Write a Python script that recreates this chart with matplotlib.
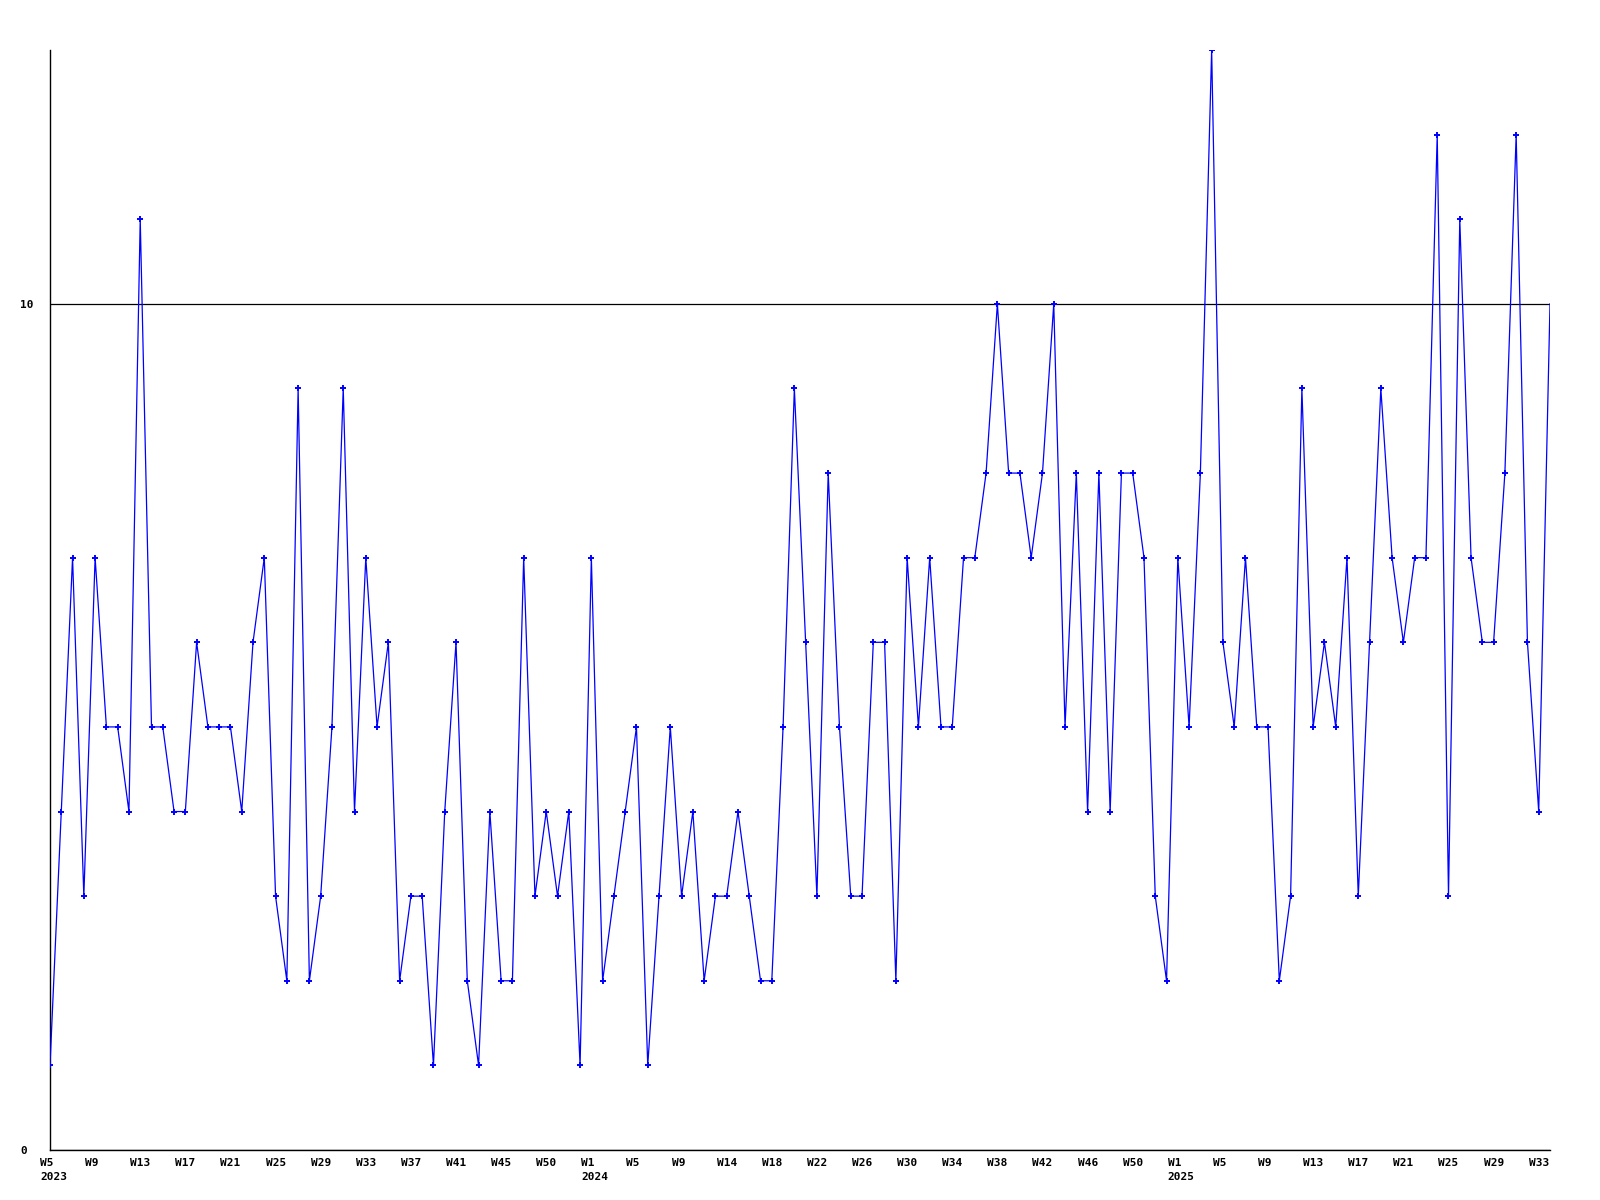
import matplotlib

matplotlib.use("Agg")
import matplotlib.pyplot as plt
from matplotlib.transforms import ScaledTranslation

# weekly counts, one value per week starting at 2023 W5
values = [
    1, 4, 7, 3, 7, 5, 5, 4, 11, 5, 5, 4, 4, 6, 5, 5, 5, 4, 6, 7,
    3, 2, 9, 2, 3, 5, 9, 4, 7, 5, 6, 2, 3, 3, 1, 4, 6, 2, 1, 4,
    2, 2, 7, 3, 4, 3, 4, 1,
    7, 2, 3, 4, 5, 1, 3, 5, 3, 4, 2, 3, 3, 4, 3, 2, 2, 5, 9, 6,
    3, 8, 5, 3, 3, 6, 6, 2, 7, 5, 7, 5, 5, 7, 7, 8, 10, 8, 8, 7,
    8, 10, 5, 8, 4, 8, 4, 8, 8, 7, 3, 2,
    7, 5, 8, 13, 6, 5, 7, 5, 5, 2, 3, 9, 5, 6, 5, 7, 3, 6, 9, 7,
    6, 7, 7, 12, 3, 11, 7, 6, 6, 8, 12, 6, 4, 10,
]

week_labels = [
    "W5", "W9", "W13", "W17", "W21", "W25", "W29", "W33", "W37", "W41", "W45", "W50",
    "W1", "W5", "W9", "W14", "W18", "W22", "W26", "W30", "W34", "W38", "W42", "W46", "W50",
    "W1", "W5", "W9", "W13", "W17", "W21", "W25", "W29", "W33",
]
year_labels = {0: "2023", 12: "2024", 25: "2025"}
label_step = 4

y_ticks = [0, 10]
y_max = 13

mono = "DejaVu Sans Mono"

fig = plt.figure(figsize=(16, 12), dpi=100)
ax = fig.add_axes([50 / 1600, 50 / 1200, 1500 / 1600, 1100 / 1200])

x = list(range(len(values)))
ax.plot(x, values, color="#0000ff", lw=0.9, zorder=3)
ax.plot(x[:-1], values[:-1], ls="none", marker="+", ms=4, mew=1.4, color="#0000ff", zorder=4)

ax.set_xlim(0, len(values) - 1)
ax.set_ylim(0, y_max)

# week labels sit left-aligned, starting a little before their point
ticks = [i * label_step for i in range(len(week_labels))]
ax.set_xticks(ticks)
ax.set_xticklabels([])
off = ax.get_xaxis_transform() + ScaledTranslation(-10 / 100, -8 / 100, fig.dpi_scale_trans)
for i, w in enumerate(week_labels):
    txt = w
    if i in year_labels:
        txt = w + "\n" + year_labels[i]
    ax.text(ticks[i], 0, txt, transform=off, ha="left", va="top", fontfamily=mono,
            fontweight="bold", fontsize=8, linespacing=1.45)

ax.set_yticks(y_ticks)
ax.set_yticklabels([str(v) for v in y_ticks], fontfamily=mono, fontweight="bold",
                   fontsize=8, ha="left")

ax.tick_params(axis="x", length=0)
ax.tick_params(axis="y", length=0, pad=21.6)

ax.grid(True, axis="y", color="black", lw=0.9)
ax.set_axisbelow(True)

ax.spines["top"].set_visible(False)
ax.spines["right"].set_visible(False)
ax.spines["left"].set_linewidth(1.0)
ax.spines["bottom"].set_linewidth(1.0)

fig.savefig("out.png", dpi=100)
